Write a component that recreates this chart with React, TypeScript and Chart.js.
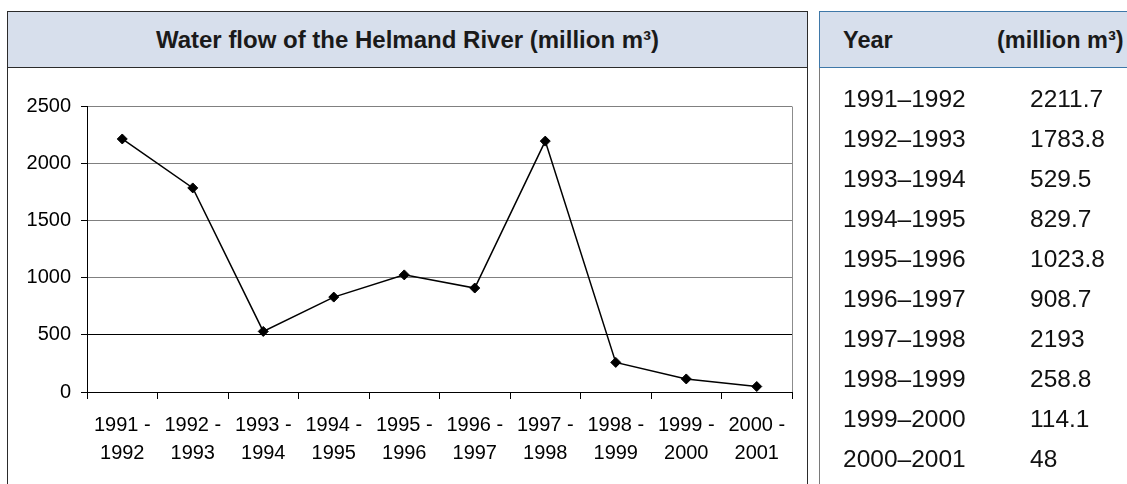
import React, { useEffect, useRef } from 'react';
import { Chart, registerables } from 'chart.js';

Chart.register(...registerables);

// ---- data ----
const periodStarts = ['1991', '1992', '1993', '1994', '1995', '1996', '1997', '1998', '1999', '2000'];
const periodEnds = ['1992', '1993', '1994', '1995', '1996', '1997', '1998', '1999', '2000', '2001'];
const flowValues = [2211.7, 1783.8, 529.5, 829.7, 1023.8, 908.7, 2193, 258.8, 114.1, 48];
const flowLabels = ['2211.7', '1783.8', '529.5', '829.7', '1023.8', '908.7', '2193', '258.8', '114.1', '48'];
const yMin = 0;
const yMax = 2500;
const yStep = 500;
const chartTitle = 'Water flow of the Helmand River (million m\u00B3)';
const tableHeaders = ['Year', '(million m\u00B3)'];

const FONT = '"Liberation Sans", Arial, Helvetica, sans-serif';

const plotFrame = {
  id: 'plotFrame',
  beforeDatasetsDraw(chart: any) {
    const { ctx, chartArea } = chart;
    ctx.save();
    ctx.strokeStyle = '#8c8c8c';
    ctx.lineWidth = 1;
    ctx.beginPath();
    const x = Math.round(chartArea.right) + 0.5;
    ctx.moveTo(x, Math.round(chartArea.top) + 0.5);
    ctx.lineTo(x, Math.round(chartArea.bottom));
    ctx.stroke();
    ctx.restore();
  },
};

function LineChart() {
  const ref = useRef<HTMLCanvasElement | null>(null);
  useEffect(() => {
    if (!ref.current) return;
    const chart = new Chart(ref.current, {
      type: 'line',
      data: {
        labels: periodStarts.map((s, i) => [s + ' -', periodEnds[i]]),
        datasets: [
          {
            data: flowValues,
            borderColor: '#000',
            borderWidth: 1.5,
            pointStyle: 'rectRot',
            pointRadius: 5,
            pointBackgroundColor: '#000',
            pointBorderColor: '#000',
            pointBorderWidth: 1,
            tension: 0,
            fill: false,
          },
        ],
      },
      options: {
        animation: false,
        responsive: false,
        devicePixelRatio: 1,
        layout: { padding: { top: 38, right: 14, left: 11, bottom: 0 } },
        plugins: {
          legend: { display: false },
          title: { display: false },
          tooltip: { enabled: false },
        },
        scales: {
          x: {
            offset: true,
            grid: { offset: true, drawOnChartArea: false, tickLength: 7, color: '#000', lineWidth: 1 },
            border: { color: '#000', width: 1 },
            ticks: {
              color: '#000',
              font: { family: FONT, size: 20, lineHeight: 1.4 },
              padding: 12,
              maxRotation: 0,
              autoSkip: false,
            },
            afterFit: (s: any) => {
              s.height = 92;
            },
          },
          y: {
            min: yMin,
            max: yMax,
            ticks: {
              stepSize: yStep,
              color: '#000',
              font: { family: FONT, size: 20 },
              padding: 10,
              callback: (v: any) => String(v),
            },
            grid: {
              color: (c: any) => (c.tick && c.tick.value === 500 ? '#000' : '#808080'),
              tickColor: '#000',
              tickLength: 6,
              lineWidth: 1,
            },
            border: { color: '#000', width: 1 },
            afterFit: (s: any) => {
              s.width = 68;
            },
          },
        },
      },
      plugins: [plotFrame],
    } as any);
    return () => chart.destroy();
  }, []);
  return (
    <canvas
      ref={ref}
      width={798}
      height={416}
      style={{ position: 'absolute', left: 8, top: 68, width: 798, height: 416 }}
    />
  );
}

export default function App() {
  const band = '#D7DFEC';
  return (
    <div
      style={{
        position: 'fixed',
        left: 0,
        top: 0,
        width: 1127,
        height: 484,
        overflow: 'hidden',
        background: '#fff',
        fontFamily: FONT,
        color: '#111',
      }}
    >
      {/* left panel */}
      <div
        style={{
          position: 'absolute',
          left: 7,
          top: 11,
          width: 801,
          height: 520,
          border: '1px solid #2b2b2b',
          boxSizing: 'border-box',
        }}
      />
      <div
        style={{
          position: 'absolute',
          left: 7,
          top: 11,
          width: 801,
          height: 57,
          background: band,
          border: '1px solid #2b2b2b',
          boxSizing: 'border-box',
          display: 'flex',
          alignItems: 'center',
          justifyContent: 'center',
          fontWeight: 'bold',
          fontSize: 24,
          color: '#1a1a1a',
          whiteSpace: 'nowrap',
        }}
      >
        {chartTitle}
      </div>
      <LineChart />

      {/* right panel */}
      <div
        style={{
          position: 'absolute',
          left: 819,
          top: 11,
          width: 400,
          height: 520,
          borderLeft: '1px solid #7a7a7a',
          boxSizing: 'border-box',
        }}
      />
      <div
        style={{
          position: 'absolute',
          left: 819,
          top: 11,
          width: 400,
          height: 57,
          background: band,
          border: '1px solid #3F78A8',
          boxSizing: 'border-box',
          fontWeight: 'bold',
          fontSize: 23.5,
          color: '#1a1a1a',
        }}
      >
        <span style={{ position: 'absolute', left: 23, top: 0, lineHeight: '56px' }}>{tableHeaders[0]}</span>
        <span style={{ position: 'absolute', left: 177, top: 0, lineHeight: '56px', whiteSpace: 'nowrap' }}>
          {tableHeaders[1]}
        </span>
      </div>
      {periodStarts.map((s, i) => (
        <div
          key={s}
          style={{
            position: 'absolute',
            left: 0,
            top: 79 + i * 40,
            height: 40,
            width: 1127,
            fontSize: 24.5,
            lineHeight: '40px',
            color: '#111',
          }}
        >
          <span style={{ position: 'absolute', left: 843 }}>{s + '\u2013' + periodEnds[i]}</span>
          <span style={{ position: 'absolute', left: 1030 }}>{flowLabels[i]}</span>
        </div>
      ))}
    </div>
  );
}
